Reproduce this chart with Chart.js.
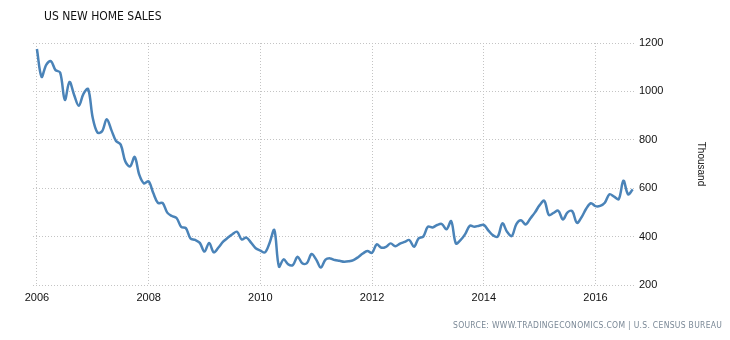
<!DOCTYPE html>
<html>
<head>
<meta charset="utf-8">
<script src="https://cdn.jsdelivr.net/npm/chart.js@4.4.0/dist/chart.umd.min.js"></script>
<style>
    html, body { margin: 0; padding: 0; background: #fff; }
    #wrap { position: relative; width: 730px; height: 340px; }
    #titulo { position: absolute; left: 44px; top: 9px; font-family: 'DejaVu Sans Condensed', 'Liberation Sans Narrow', sans-serif; font-size: 12px; color: #111; }
    #unidad { position: absolute; left: 671px; top: 164px; width: 60px; text-align: center; font-family: 'Liberation Sans', Arial, sans-serif; font-size: 10px; color: #111; transform: rotate(90deg); transform-origin: center; line-height: 12px; margin-top: -6px; }
    #fuente { position: absolute; left: 453px; top: 320px; font-family: 'DejaVu Sans Condensed', sans-serif; font-size: 8.5px; color: #7a8896; letter-spacing: 0.3px; }
</style>
</head>
<body>
<div id="wrap">
    <canvas id="graficoVentas" width="730" height="340"></canvas>
    <div id="titulo">US NEW HOME SALES</div>
    <div id="unidad">Thousand</div>
    <div id="fuente">SOURCE: WWW.TRADINGECONOMICS.COM | U.S. CENSUS BUREAU</div>
</div>
<script>
// mensual, ene 2006 - sep 2016, miles (SAAR)
const anioInicio = 2006;
const ventas = [
    1175, 1060, 1110, 1125, 1088, 1078, 965, 1039, 985, 941, 990, 1010,
    890, 830, 835, 885, 840, 795, 780, 710, 690, 729, 655, 620,
    628, 580, 539, 539, 499, 485, 477, 440, 435, 392, 386, 374,
    338, 374, 335, 355, 379, 395, 410, 420, 388, 396, 375, 352,
    342, 335, 375, 427, 276, 306, 285, 283, 317, 290, 290, 328,
    305, 272, 305, 310, 303, 300, 296, 298, 303, 315, 330, 340,
    333, 368, 354, 358, 372, 360, 371, 378, 386, 358, 393, 400,
    441, 438, 448, 452, 430, 464, 372, 385, 410, 445, 441, 445,
    448, 425, 405, 400, 455, 420, 402, 452, 468, 450, 475, 500,
    530, 548, 489, 498, 507, 471, 500, 505, 457, 480, 515, 538,
    526, 527, 540, 575, 565, 555, 631, 575, 595
];
const aniosEje = [2006, 2008, 2010, 2012, 2014, 2016];
const valoresEje = [200, 400, 600, 800, 1000, 1200];

const puntos = ventas.map((v, i) => ({ x: anioInicio + i / 12, y: v }));

const rejilla = {
    color: '#c4c4c4',
    lineWidth: 1,
    drawTicks: false
};

const ctx = document.getElementById('graficoVentas').getContext('2d');

new Chart(ctx, {
    type: 'line',
    data: {
        datasets: [{
            label: 'US New Home Sales',
            data: puntos,
            borderColor: '#4a83b8',
            borderWidth: 2.5,
            pointRadius: 0,
            tension: 0.35,
            fill: false
        }]
    },
    options: {
        responsive: false,
        animation: false,
        layout: {
            padding: { left: 33, top: 43, right: 0, bottom: 0 }
        },
        scales: {
            x: {
                type: 'linear',
                min: 2005.93,
                max: 2016.725,
                afterBuildTicks: function(scale) {
                    scale.ticks = aniosEje.map(a => ({ value: a }));
                },
                afterFit: function(scale) {
                    scale.height = 55;
                },
                border: { display: false, dash: [1, 2] },
                grid: rejilla,
                ticks: {
                    padding: 6,
                    color: '#111',
                    font: { family: 'Liberation Sans', size: 11 },
                    maxRotation: 0,
                    callback: value => String(value)
                }
            },
            y: {
                position: 'right',
                min: 200,
                max: 1200,
                afterBuildTicks: function(scale) {
                    scale.ticks = valoresEje.map(v => ({ value: v }));
                },
                afterFit: function(scale) {
                    scale.width = 94;
                },
                border: { display: false, dash: [1, 2] },
                grid: rejilla,
                ticks: {
                    padding: 3,
                    color: '#111',
                    font: { family: 'Liberation Sans', size: 11 },
                    callback: value => String(value)
                }
            }
        },
        plugins: {
            legend: { display: false },
            tooltip: { enabled: false }
        }
    }
});
</script>
</body>
</html>
